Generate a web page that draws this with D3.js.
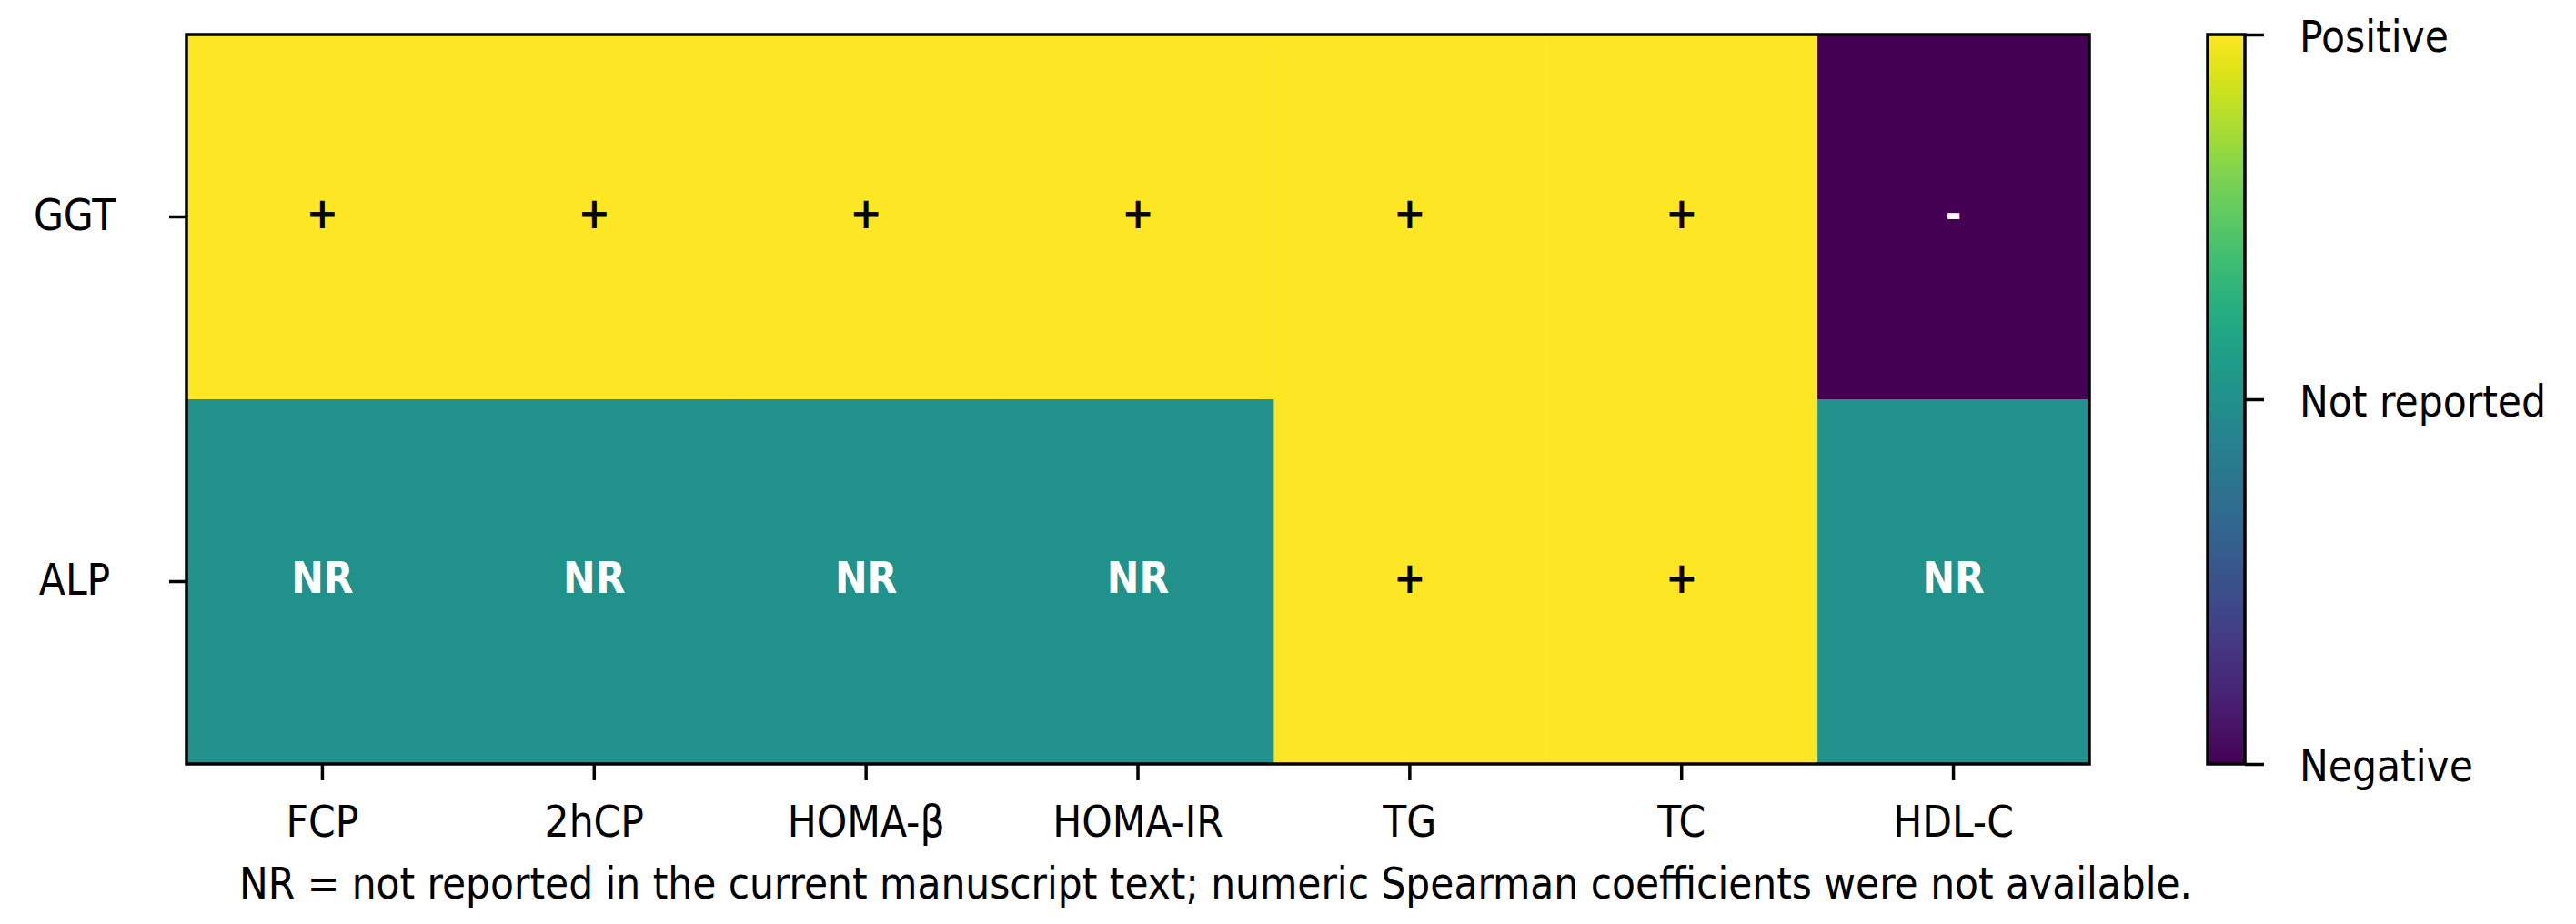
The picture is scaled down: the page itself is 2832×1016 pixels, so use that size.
<!DOCTYPE html>
<html>
<head>
<meta charset="utf-8">
<script src="https://cdn.jsdelivr.net/npm/d3@7"></script>
<style>
  html, body { margin: 0; padding: 0; background: #ffffff; }
  svg { display: block; }
  text { font-family: 'DejaVu Sans Condensed', 'DejaVu Sans', sans-serif; font-stretch: condensed; }
</style>
</head>
<body>
<svg id="chart" width="2832" height="1016"></svg>
<script>
// ---- data ----
const rowLabels = ["GGT", "ALP"];
const colLabels = ["FCP", "2hCP", "HOMA-β", "HOMA-IR", "TG", "TC", "HDL-C"];
const ggtValues = [1, 1, 1, 1, 1, 1, -1];
const alpValues = [0, 0, 0, 0, 1, 1, 0];
const seriesValues = [ggtValues, alpValues];
const colorbarTicks = [-1, 0, 1];
const colorbarTickLabels = ["Negative", "Not reported", "Positive"];
const cellSymbols = { "1": "+", "0": "NR", "-1": "-" };
const captionText = "NR = not reported in the current manuscript text; numeric Spearman coefficients were not available.";

// ---- layout ----
const plot = { left: 205, right: 2297, top: 38, bottom: 840 };
const cbar = { left: 2427, right: 2468, top: 38, bottom: 840 };
const FS = 47.3;
const FONT = "'DejaVu Sans Condensed', 'DejaVu Sans', sans-serif";
const svg = d3.select("#chart");

const x = d3.scaleBand().domain(colLabels).range([plot.left, plot.right]).padding(0);
const y = d3.scaleBand().domain(rowLabels).range([plot.top, plot.bottom]).padding(0);
const color = v => d3.interpolateViridis((v + 1) / 2);

const cells = [];
rowLabels.forEach((r, i) => colLabels.forEach((c, j) => cells.push({ row: r, col: c, v: seriesValues[i][j] })));

// cells
svg.append("g").selectAll("rect").data(cells).join("rect")
  .attr("x", d => x(d.col))
  .attr("y", d => y(d.row))
  .attr("width", x.bandwidth() + 0.5)
  .attr("height", y.bandwidth() + 0.5)
  .attr("fill", d => color(d.v));

// cell annotations
svg.append("g").selectAll("text").data(cells).join("text")
  .attr("x", d => x(d.col) + x.bandwidth() / 2)
  .attr("y", d => y(d.row) + y.bandwidth() / 2 + 12)
  .attr("text-anchor", "middle")
  .attr("font-size", FS)
  .attr("font-weight", "bold")
  .attr("fill", d => d.v > 0.5 ? "#000000" : "#ffffff")
  .text(d => cellSymbols[String(d.v)]);

// frame
svg.append("rect")
  .attr("x", plot.left).attr("y", plot.top)
  .attr("width", plot.right - plot.left).attr("height", plot.bottom - plot.top)
  .attr("fill", "none").attr("stroke", "#000").attr("stroke-width", 3.5);

// x axis
const xAxis = svg.append("g")
  .attr("transform", `translate(0,${plot.bottom})`)
  .call(d3.axisBottom(x).tickSize(18).tickPadding(0));
xAxis.select(".domain").remove();
xAxis.selectAll(".tick line").attr("stroke", "#000").attr("stroke-width", 3.5);
xAxis.selectAll(".tick text")
  .attr("y", 80).attr("dy", null)
  .attr("font-size", FS).attr("fill", "#000")
  .style("font-family", FONT);

// y axis
const yAxis = svg.append("g")
  .attr("transform", `translate(${plot.left},0)`)
  .call(d3.axisLeft(y).tickSize(19).tickPadding(0));
yAxis.select(".domain").remove();
yAxis.selectAll(".tick line").attr("stroke", "#000").attr("stroke-width", 3.5);
yAxis.selectAll(".tick text")
  .attr("x", 82 - plot.left).attr("dy", null).attr("y", 14)
  .attr("text-anchor", "middle")
  .attr("font-size", FS).attr("fill", "#000")
  .style("font-family", FONT);

// colorbar
const defs = svg.append("defs");
const grad = defs.append("linearGradient").attr("id", "viridisGrad")
  .attr("x1", "0").attr("y1", "1").attr("x2", "0").attr("y2", "0");
d3.range(0, 1.0001, 0.02).forEach(t => {
  grad.append("stop").attr("offset", t).attr("stop-color", d3.interpolateViridis(t));
});
const cy = d3.scaleLinear().domain([-1, 1]).range([cbar.bottom, cbar.top]);
svg.append("rect")
  .attr("x", cbar.left).attr("y", cbar.top)
  .attr("width", cbar.right - cbar.left).attr("height", cbar.bottom - cbar.top)
  .attr("fill", "url(#viridisGrad)")
  .attr("stroke", "#000").attr("stroke-width", 3.5);

const cAxis = svg.append("g")
  .attr("transform", `translate(${cbar.right},0)`)
  .call(d3.axisRight(cy).tickValues(colorbarTicks)
    .tickFormat((d, i) => colorbarTickLabels[i]).tickSize(21).tickPadding(0));
cAxis.select(".domain").remove();
cAxis.selectAll(".tick line").attr("stroke", "#000").attr("stroke-width", 3.5);
cAxis.selectAll(".tick text")
  .attr("x", 2528 - cbar.right).attr("dy", null).attr("y", 18)
  .attr("text-anchor", "start")
  .attr("font-size", FS).attr("fill", "#000")
  .style("font-family", FONT);

// caption
svg.append("text")
  .attr("x", 263).attr("y", 988)
  .attr("font-size", FS).attr("fill", "#000")
  .attr("textLength", 2147).attr("lengthAdjust", "spacingAndGlyphs")
  .text(captionText);
</script>
</body>
</html>
